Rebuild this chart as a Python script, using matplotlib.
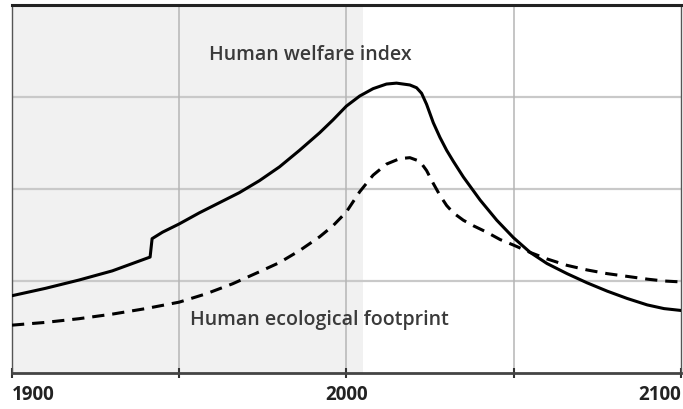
import matplotlib
matplotlib.use("Agg")
import matplotlib.pyplot as plt

welfare_years = [1900, 1910, 1920, 1930, 1941.3, 1941.9, 1945, 1950, 1956, 1962, 1968, 1974, 1980, 1986, 1992,
                 1996, 2000, 2004, 2008, 2012, 2015, 2019, 2021, 2022.5, 2024, 2026, 2028, 2030, 2032, 2035,
                 2040, 2045, 2050, 2055, 2060, 2066, 2072, 2078, 2084, 2090, 2095, 2100]
welfare_vals = [0.84, 0.92, 1.01, 1.11, 1.26, 1.46, 1.53, 1.62, 1.74, 1.85, 1.96, 2.09, 2.24, 2.42, 2.61,
                2.75, 2.90, 3.01, 3.09, 3.14, 3.15, 3.13, 3.10, 3.04, 2.92, 2.72, 2.56, 2.42, 2.30, 2.13,
                1.88, 1.66, 1.47, 1.31, 1.19, 1.08, 0.98, 0.89, 0.81, 0.74, 0.70, 0.68]

footprint_years = [1900, 1910, 1920, 1930, 1940, 1950, 1958, 1966, 1974, 1980, 1986, 1992, 1996, 2000,
                   2004, 2008, 2012, 2016, 2019, 2022, 2024, 2026, 2028, 2030, 2032, 2035, 2038, 2042,
                   2046, 2050, 2055, 2060, 2066, 2072, 2078, 2084, 2090, 2095, 2100]
footprint_vals = [0.52, 0.55, 0.59, 0.64, 0.70, 0.77, 0.86, 0.97, 1.10, 1.20, 1.33, 1.48, 1.60, 1.75,
                  1.97, 2.15, 2.27, 2.33, 2.34, 2.30, 2.20, 2.06, 1.93, 1.82, 1.74, 1.66, 1.60, 1.53,
                  1.45, 1.39, 1.31, 1.24, 1.17, 1.12, 1.08, 1.05, 1.02, 1.00, 0.99]

tick_years = [1900, 1950, 2000, 2050, 2100]
tick_labels = ["1900", "", "2000", "", "2100"]
grid_levels = [1, 2, 3]
shade_span = (1900, 2005)
labels = ["Human welfare index", "Human ecological footprint"]

fig = plt.figure(figsize=(6.83, 4.09), dpi=100)
ax = fig.add_axes([0.0176, 0.088, 0.979, 0.900])
ax.set_xlim(1900, 2100)
ax.set_ylim(0, 4)

ax.axvspan(shade_span[0], shade_span[1], color="#f1f1f1", zorder=0, lw=0)
for g in grid_levels:
    ax.axhline(g, color="#c9c9c9", lw=1.6, zorder=1)
for t in tick_years[1:-1]:
    ax.axvline(t, color="#b5b5b5", lw=1.1, zorder=1)

ax.plot(welfare_years, welfare_vals, color="black", lw=2.2, zorder=3, solid_joinstyle="round")
ax.plot(footprint_years, footprint_vals, color="black", lw=2.2, zorder=3, dashes=(4, 2.6))

ax.text(1989.2, 3.46, labels[0], ha="center", va="center", fontsize=14, color="#3a3a3a",
        family="Open Sans", fontweight="semibold")
ax.text(1953.2, 0.58, labels[1], ha="left", va="center", fontsize=14, color="#3a3a3a",
        family="Open Sans", fontweight="semibold")

for side in ["left", "right"]:
    ax.spines[side].set_color("#555555")
    ax.spines[side].set_linewidth(1.0)
ax.spines["top"].set_color("#222222")
ax.spines["top"].set_linewidth(2.2)
ax.spines["bottom"].set_color("#444444")
ax.spines["bottom"].set_linewidth(2.0)

ax.set_yticks([])
ax.set_xticks(tick_years)
ax.set_xticklabels(tick_labels, fontsize=13.5, fontweight="bold", family="Open Sans", color="#222222")
ax.tick_params(axis="x", direction="inout", length=7, width=1.5, color="#333333", pad=5)
tl = ax.get_xticklabels()
tl[0].set_ha("left")
tl[-1].set_ha("right")

fig.savefig("out.png", dpi=100)
